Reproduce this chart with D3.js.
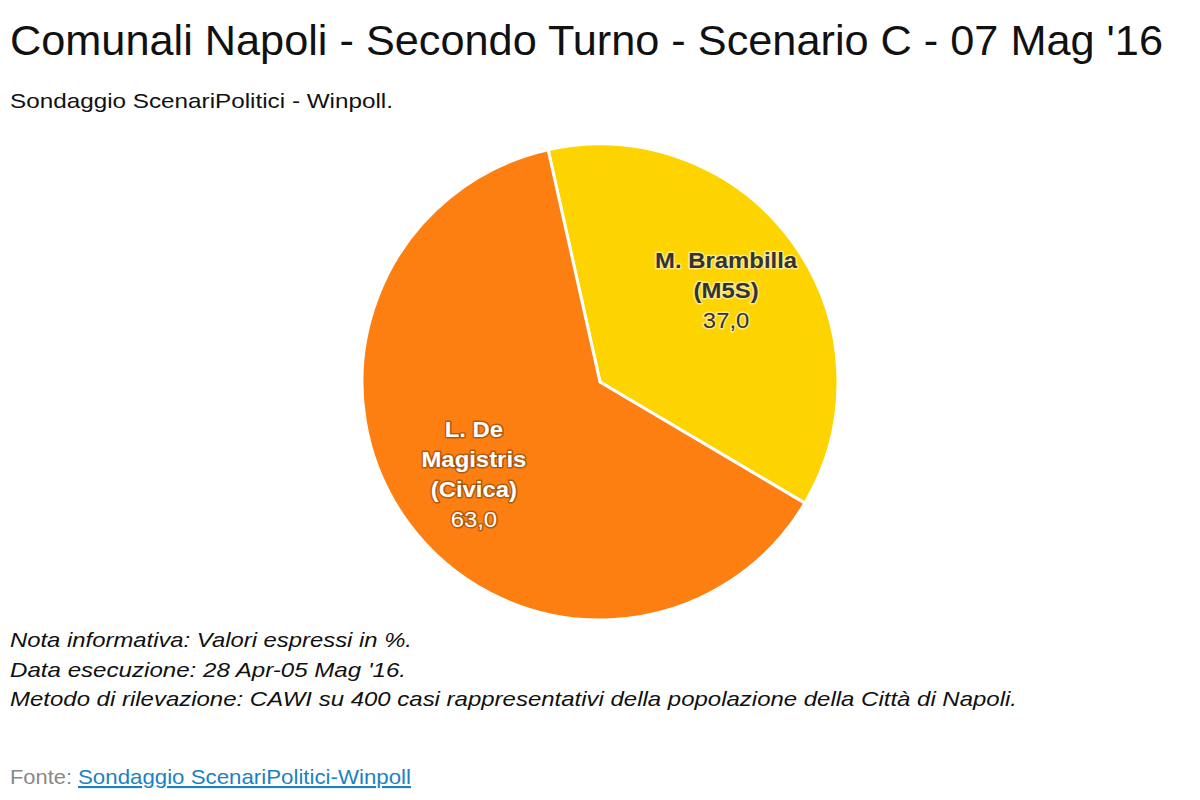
<!DOCTYPE html>
<html><head><meta charset="utf-8">
<script src="https://cdn.jsdelivr.net/npm/d3@7"></script>
<style>
body{margin:0;background:#fff;}
svg text{font-family:"Liberation Sans",Arial,Helvetica,sans-serif;}
</style></head>
<body><svg id="c" width="1200" height="800"></svg>
<script>
const categories = ["L. De Magistris (Civica)", "M. Brambilla (M5S)"];
const labelLines = [["L. De","Magistris","(Civica)"],["M. Brambilla","(M5S)"]];
const values = [63.0, 37.0];
const valueLabels = ["63,0", "37,0"];
const colors = ["#fd7f11", "#fdd300"];
const title = "Comunali Napoli - Secondo Turno - Scenario C - 07 Mag '16";
const subtitle = "Sondaggio ScenariPolitici - Winpoll.";
const notes = ["Nota informativa: Valori espressi in %.","Data esecuzione: 28 Apr-05 Mag '16.","Metodo di rilevazione: CAWI su 400 casi rappresentativi della popolazione della Città di Napoli."];
const sourceLabel = "Fonte:";
const sourceText = "Sondaggio ScenariPolitici-Winpoll";

const svg = d3.select("#c");

function stretch(sel, target){
  sel.attr("textLength", target).attr("lengthAdjust","spacingAndGlyphs");
}

const t = svg.append("text").attr("x",10).attr("y",55).attr("font-size",42).attr("fill","#111").text(title);
stretch(t, 1153);
const st = svg.append("text").attr("x",10).attr("y",108).attr("font-size",21).attr("fill","#111").text(subtitle);
stretch(st, 383);

const cx = 600, cy = 382, r = 238;
const startA = -12.6*Math.PI/180;
const order = [1,0];
const pie = d3.pie().sort(null).value(i=>values[i]).startAngle(startA).endAngle(startA+2*Math.PI);
const arcs = pie(order);
const arc = d3.arc().innerRadius(0).outerRadius(r);
const g = svg.append("g").attr("transform",`translate(${cx},${cy})`);
g.selectAll("path").data(arcs).join("path")
  .attr("d",arc).attr("fill",d=>colors[d.data])
  .attr("stroke","#fff").attr("stroke-width",3).attr("stroke-linejoin","round");

const probe = svg.append("text").attr("font-size",22).attr("font-weight","bold").text("M. Brambilla");
const kLab = 142 / probe.node().getComputedTextLength();
probe.remove();

const labelArc = d3.arc().innerRadius(0).outerRadius(r*1.31);
const lh = 30;
arcs.forEach(d=>{
  const i = d.data;
  const [lx,ly] = labelArc.centroid(d);
  const lines = labelLines[i];
  const n = lines.length+1;
  const dark = i===1;
  const fill = dark ? "#333333" : "#ffffff";
  const halo = dark ? "rgba(255,255,255,0.5)" : "rgba(0,0,0,0.3)";
  const y0 = ly - (n-1)*lh/2 + 8;
  lines.concat([valueLabels[i]]).forEach((s,k)=>{
    const bold = k<lines.length;
    const tx = g.append("text").attr("y",y0+k*lh)
      .attr("font-size",22).attr("font-weight",bold?"bold":"normal")
      .attr("fill",fill).attr("stroke",halo).attr("stroke-width",3).attr("stroke-linejoin","round")
      .attr("paint-order","stroke").text(s);
    const w = tx.node().getComputedTextLength();
    tx.attr("x", lx - w*kLab/2);
    stretch(tx, w*kLab);
  });
});

const noteW = [402, 396, 1007];
notes.forEach((s,k)=>{
  const nt = svg.append("text").attr("x",10).attr("y",647+k*29.5).attr("font-size",21)
    .attr("font-style","italic").attr("fill","#111").text(s);
  stretch(nt, noteW[k]);
});
const f1 = svg.append("text").attr("x",10).attr("y",784).attr("font-size",21).attr("fill","#888").text(sourceLabel);
stretch(f1, 62);
const f2 = svg.append("text").attr("x",78).attr("y",784).attr("font-size",21).attr("fill","#1a82c2")
  .attr("text-decoration","underline").text(sourceText);
stretch(f2, 333);
</script></body></html>
